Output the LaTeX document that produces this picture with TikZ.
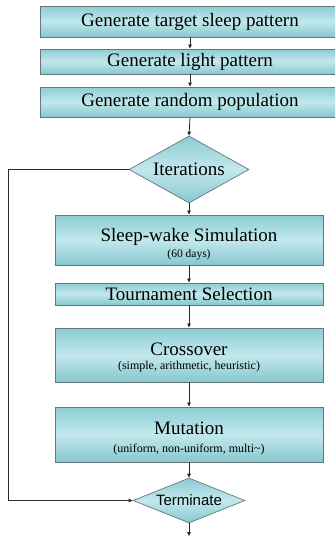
\documentclass[tikz,border=0pt]{standalone}
\usepackage{fontspec}
\setmainfont{Liberation Serif}
\newfontfamily\armfont{Liberation Sans}
\usetikzlibrary{arrows.meta,shapes.geometric}
\definecolor{tealtop}{HTML}{8CCDD3}
\definecolor{tealmid}{HTML}{C2E8EC}
\definecolor{tealbot}{HTML}{86C8CF}
\definecolor{boxline}{HTML}{66757B}
\definecolor{wire}{HTML}{2A2A2A}
\tikzset{
  box/.style={rectangle, draw=boxline, line width=0.9pt,
    top color=tealtop, bottom color=tealbot, middle color=tealmid,
    inner sep=0pt, font=\fontsize{19}{20}\selectfont},
  choice/.style={diamond, draw=boxline, line width=0.7pt,
    top color=tealtop, bottom color=tealbot, middle color=tealmid,
    inner sep=0pt, aspect=1.8},
  sub/.style={inner sep=0pt, font=\fontsize{12}{13}\selectfont},
  flow/.style={draw=wire, line width=0.8pt, -{Triangle[length=4pt,width=3.6pt]}},
}
\begin{document}
\begin{tikzpicture}[x=1pt,y=-1pt]
\useasboundingbox (0,0) rectangle (335,536);
% set-up steps
\node[box, minimum width=300, minimum height=31] (b1) at (190,21.5) {Generate target sleep pattern};
\node[box, minimum width=300, minimum height=25] (b2) at (190,61.5) {Generate light pattern};
\node[box, minimum width=300, minimum height=30] (b3) at (190,102) {Generate random population};
% loop head
\node[choice, minimum width=120, minimum height=67, font=\fontsize{19}{20}\selectfont] (d1) at (189,169.5) {Iterations};
% loop body
\node[box, minimum width=268, minimum height=50] (b4) at (189,240) {};
\node[inner sep=0pt, font=\fontsize{19}{20}\selectfont] (t4) at (189,237) {Sleep-wake Simulation};
\node[sub, font=\fontsize{11.5}{12}\selectfont] (s4) at (189,254.5) {(60 days)};
\node[box, minimum width=268, minimum height=22] (b5) at (189,294) {Tournament Selection};
\node[box, minimum width=268, minimum height=54] (b6) at (189,355) {};
\node[inner sep=0pt, font=\fontsize{19}{20}\selectfont] (t6) at (189,349) {Crossover};
\node[sub] (s6) at (189,366.5) {(simple, arithmetic, heuristic)};
\node[box, minimum width=268, minimum height=55] (b7) at (189,434.5) {};
\node[inner sep=0pt, font=\fontsize{19}{20}\selectfont] (t7) at (189,428.5) {Mutation};
\node[sub] (s7) at (189,450) {(uniform, non-uniform, multi\textasciitilde)};
% loop tail
\node[choice, minimum width=112, minimum height=45, aspect=2.4, font=\armfont\fontsize{15}{16}\selectfont] (d2) at (189,500.5) {Terminate};
\coordinate (out) at (189,536);
\coordinate (c1) at (8,169.5);
\coordinate (c2) at (8,500.5);
% connectors
\draw[flow] (b1.south) -- (b2.north);
\draw[flow] (b2.south) -- (b3.north);
\draw[flow] (b3.south) -- (d1.north);
\draw[flow] (d1.south) -- (b4.north);
\draw[flow] (b4.south) -- (b5.north);
\draw[flow] (b5.south) -- (b6.north);
\draw[flow] (b6.south) -- (b7.north);
\draw[flow] (b7.south) -- (d2.north);
\draw[flow] (d2.south) -- (out);
\draw[flow, line width=1pt] (d1.west) -- (c1) -- (c2) -- (d2.west);
\end{tikzpicture}
\end{document}
